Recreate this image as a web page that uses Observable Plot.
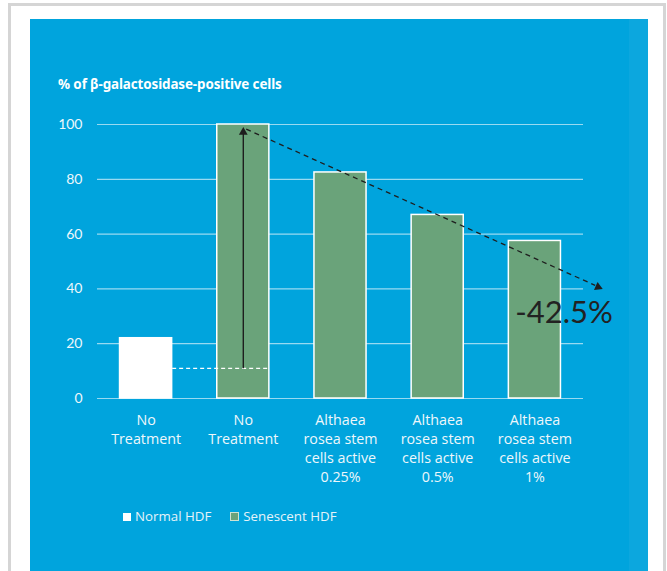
<!DOCTYPE html>
<html>
<head>
<meta charset="utf-8">
<script src="https://cdn.jsdelivr.net/npm/d3@7"></script>
<script src="https://cdn.jsdelivr.net/npm/@observablehq/plot@0.6"></script>
<style>
  html, body { margin: 0; padding: 0; background: #fff; width: 667px; height: 571px; overflow: hidden; }
  #frame { position: absolute; left: 8px; top: 3px; width: 658px; height: 620px; box-sizing: border-box; border: 3px solid #d5d5d5; background: #fff; }
  #panel { position: absolute; left: 30px; top: 19px; width: 618px; height: 560px; background: #00a4dd; overflow: hidden; }
  #strip { position: absolute; left: 599px; top: 0; width: 19px; height: 560px; background: #0ca7de; }
  #title { position: absolute; left: 28px; top: 56px; font-family: "Noto Sans", sans-serif; font-weight: 700; font-size: 13.4px; color: #fff; letter-spacing: -0.1px; }
  #chart { position: absolute; left: 0; top: 91px; }
  #legend { position: absolute; left: 93px; top: 488px; font-family: "Open Sans", sans-serif; font-size: 13.3px; color: #e6f3f9; display: flex; gap: 19px; align-items: center; }
  .key { display: inline-block; width: 8px; height: 8px; margin-right: 4px; }
</style>
</head>
<body>
<div id="frame"></div>
<div id="panel">
  <div id="strip"></div>
  <div id="title">% of β-galactosidase-positive cells</div>
  <div id="chart"></div>
  <div id="legend"></div>
</div>
<script>
// ---- data ----
const categories = ["No\nTreatment", "No\nTreatment", "Althaea\nrosea stem\ncells active\n0.25%", "Althaea\nrosea stem\ncells active\n0.5%", "Althaea\nrosea stem\ncells active\n1%"];
const series = ["Normal HDF", "Senescent HDF", "Senescent HDF", "Senescent HDF", "Senescent HDF"];
const values = [22, 100, 82.5, 67, 57.5];
const yTicks = [0, 20, 40, 60, 80, 100];
const seriesNames = ["Normal HDF", "Senescent HDF"];
const seriesColors = ["#ffffff", "#6aa37a"];
// annotations (data coordinates)
const baselineLevel = 11;     // dashed reference from normal level
const arrowTop = 98.5;
const trendStart = {x: 1.03, y: 98.3};
const trendEnd = {x: 4.62, y: 41.3};
const reductionLabel = "-42.5%";
const labelPos = {x: 4.3, y: 31};

const data = values.map((v, i) => ({i, cat: categories[i], series: series[i], v}));
const half = 0.268;

const chart = Plot.plot({
  width: 618,
  height: 380,
  marginLeft: 67,
  marginRight: 65,
  marginTop: 14,
  marginBottom: 92,
  style: {background: "transparent", fontFamily: "Lato, sans-serif"},
  x: {domain: [-0.5, 4.5], axis: null},
  y: {domain: [0, 100], axis: null},
  color: {domain: seriesNames, range: seriesColors},
  marks: [
    Plot.gridY(yTicks, {stroke: "#ffffff", strokeOpacity: 0.6, strokeWidth: 1.2}),
    Plot.axisY(yTicks, {tickSize: 0, tickPadding: 15, fontSize: 14, fill: "#eef7fb", label: null}),
    Plot.axisX(d3.range(categories.length), {tickSize: 0, tickPadding: 13, fontSize: 14.3, lineHeight: 1.33, fontFamily: "Open Sans, sans-serif", fill: "#eef7fb", label: null, tickFormat: i => categories[i]}),
    Plot.rectY(data, {x1: d => d.i - half, x2: d => d.i + half, y1: 0, y2: "v", fill: "series", stroke: "#ffffff", strokeWidth: 1.5}),
    Plot.link([{x1: half, x2: 1 + half - 0.01, y: baselineLevel}], {x1: "x1", x2: "x2", y1: "y", y2: "y", stroke: "#ffffff", strokeWidth: 1.2, strokeDasharray: "4,3"}),
    // vertical solid arrow
    Plot.link([{x: 1, y1: baselineLevel, y2: arrowTop - 2}], {x1: "x", x2: "x", y1: "y1", y2: "y2", stroke: "#1e1e1e", strokeWidth: 1.4}),
    Plot.dot([{x: 1, y: arrowTop - 1.3}], {x: "x", y: "y", symbol: "triangle2", r: 4.2, fill: "#1e1e1e", stroke: null}),
    // dashed trend arrow
    Plot.link([{x1: trendStart.x, y1: trendStart.y, x2: trendEnd.x, y2: trendEnd.y}], {x1: "x1", y1: "y1", x2: "x2", y2: "y2", stroke: "#1e1e1e", strokeWidth: 1.3, strokeDasharray: "5,4"}),
    Plot.dot([{x: trendEnd.x + 0.03, y: trendEnd.y - 0.6}], {x: "x", y: "y", symbol: "triangle2", r: 4.2, rotate: 114, fill: "#1e1e1e", stroke: null}),
    Plot.text([labelPos], {x: "x", y: "y", text: () => reductionLabel, fontSize: 31, fontWeight: 400, fill: "#222222", fontFamily: "Lato, sans-serif"})
  ]
});
document.getElementById("chart").appendChild(chart);

const legend = document.getElementById("legend");
seriesNames.forEach((name, k) => {
  const item = document.createElement("span");
  const key = document.createElement("span");
  key.className = "key";
  key.style.background = seriesColors[k];
  if (k === 1) key.style.border = "1px solid #cfe3d3", key.style.width = "7px", key.style.height = "7px";
  item.appendChild(key);
  item.appendChild(document.createTextNode(name));
  legend.appendChild(item);
});
</script>
</body>
</html>
